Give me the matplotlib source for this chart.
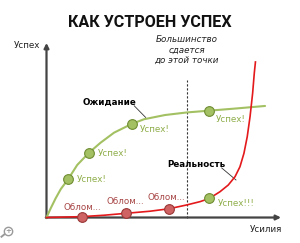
import matplotlib
matplotlib.use('Agg')
import matplotlib.pyplot as plt

# effort (0..100) vs success (0..100)
expect_x = [0, 1.8, 3.9, 6.1, 9.2, 13.1, 18.1, 23.1, 28.8, 36.3, 41.6, 50.5, 59.9, 69.3, 81.2, 93.2]
expect_y = [0, 5.3, 11.0, 16.3, 21.9, 30.1, 37.1, 42.9, 48.6, 53.6, 56.3, 58.7, 60.2, 61.2, 62.5, 63.9]
expect_pts = [4, 6, 9, 13]

real_x = [0, 15.0, 24.5, 33.9, 44.1, 52.2, 59.8, 65.5, 69.4, 74.0, 77.5, 80.4, 82.5, 84.2,
          85.6, 86.8, 87.9, 88.6, 89.1]
real_y = [0, 0.5, 1.3, 2.4, 3.6, 5.0, 7.2, 9.1, 10.9, 14.8, 18.6, 23.4, 29.1, 36.8,
          46.3, 57.8, 71.2, 82.6, 89.1]
fail_pts = [1, 3, 5]
win_pt = 8

giveup_x = 59.8

GREEN = '#a3c162'
GREEN_EDGE = '#6f8d33'
GREEN_TXT = '#8fae4a'
RED = '#e3191c'
RED_FILL = '#cf6262'
RED_EDGE = '#9a3838'
RED_TXT = '#a84646'
AXIS = '#444444'

fig = plt.figure(figsize=(3.0, 2.43), dpi=100)
ax = fig.add_axes([0, 0, 1, 1])
ax.set_xlim(-19.83, 108.1)
ax.set_ylim(-14.6, 124.6)
ax.axis('off')

# axes with arrows
ax.annotate('', xy=(0, 100), xytext=(0, -0.3),
            arrowprops=dict(arrowstyle='-|>', lw=1.6, color=AXIS, mutation_scale=7,
                            shrinkA=0, shrinkB=0))
ax.annotate('', xy=(100, 0), xytext=(-0.3, 0),
            arrowprops=dict(arrowstyle='-|>', lw=1.6, color=AXIS, mutation_scale=7,
                            shrinkA=0, shrinkB=0))
ax.text(-2.6, 98.8, 'Успех', fontsize=6.3, ha='right', va='center', color='#222222')
ax.text(100.5, -6.6, 'Усилия', fontsize=6.3, ha='right', va='center', color='#222222')

# "give up" line
ax.plot([giveup_x, giveup_x], [0, 78.8], ls=(0, (2, 1.6)), lw=0.8, color='#333333')
ax.text(giveup_x, 96.0, 'Большинство\nсдается\nдо этой точки', fontsize=6.3, style='italic',
        ha='center', va='center', linespacing=1.25, color='#222222')

# curves
ax.plot(expect_x, expect_y, color=GREEN, lw=1.5, solid_capstyle='round',
        solid_joinstyle='round', zorder=3)
ax.plot(real_x, real_y, color=RED, lw=1.2, solid_joinstyle='round', zorder=4)

ax.plot([expect_x[i] for i in expect_pts], [expect_y[i] for i in expect_pts], 'o',
        ms=7, mfc=GREEN, mec=GREEN_EDGE, mew=0.8, zorder=5)
ax.plot([real_x[i] for i in fail_pts], [real_y[i] for i in fail_pts], 'o',
        ms=7, mfc=RED_FILL, mec=RED_EDGE, mew=0.8, zorder=5)
ax.plot([real_x[win_pt]], [real_y[win_pt]], 'o',
        ms=7, mfc=GREEN, mec=GREEN_EDGE, mew=0.8, zorder=5)

# success labels
ax.text(12.9, 21.5, 'Успех!', fontsize=6.3, color=GREEN_TXT, va='center')
ax.text(22.1, 36.8, 'Успех!', fontsize=6.3, color=GREEN_TXT, va='center')
ax.text(39.9, 50.5, 'Успех!', fontsize=6.3, color=GREEN_TXT, va='center')
ax.text(72.3, 56.4, 'Успех!', fontsize=6.3, color=GREEN_TXT, va='center')
ax.text(73.0, 8.1, 'Успех!!!', fontsize=6.3, color=GREEN_TXT, va='center')

# fail labels
ax.text(15.4, 5.8, 'Облом...', fontsize=6.3, color=RED_TXT, ha='center', va='center')
ax.text(33.8, 9.0, 'Облом...', fontsize=6.3, color=RED_TXT, ha='center', va='center')
ax.text(51.0, 11.5, 'Облом...', fontsize=6.3, color=RED_TXT, ha='center', va='center')

# curve names with leader lines
ax.text(26.9, 66.0, 'Ожидание', fontsize=6.3, weight='bold', ha='center', va='center')
ax.plot([37.4, 42.3], [64.0, 57.3], color='#333333', lw=0.6)
ax.text(63.8, 30.6, 'Реальность', fontsize=6.3, weight='bold', ha='center', va='center')
ax.plot([74.7, 80.8], [28.4, 21.5], color='#333333', lw=0.6)

# zoom icon in the corner
ax.plot([-16.5], [-8.0], 'o', ms=6, mfc='white', mec='#9a9a9a', mew=1.0)
ax.text(-16.5, -8.0, '+', fontsize=5, ha='center', va='center', color='#9a9a9a', weight='bold')
ax.plot([-18.0, -19.2], [-9.7, -11.0], color='#9a9a9a', lw=1.4)

title = fig.text(0.5, 1 - 22.5 / 243, 'КАК УСТРОЕН УСПЕХ', family=['Roboto', 'DejaVu Sans'],
                 weight='bold', fontsize=13, ha='center', va='center', color='#111111')
# fit the title to the width it has in the picture (~163 px)
fig.canvas.draw()
w = title.get_window_extent().width
title.set_fontsize(13 * 163 / w)

fig.savefig('out.png', dpi=100)
